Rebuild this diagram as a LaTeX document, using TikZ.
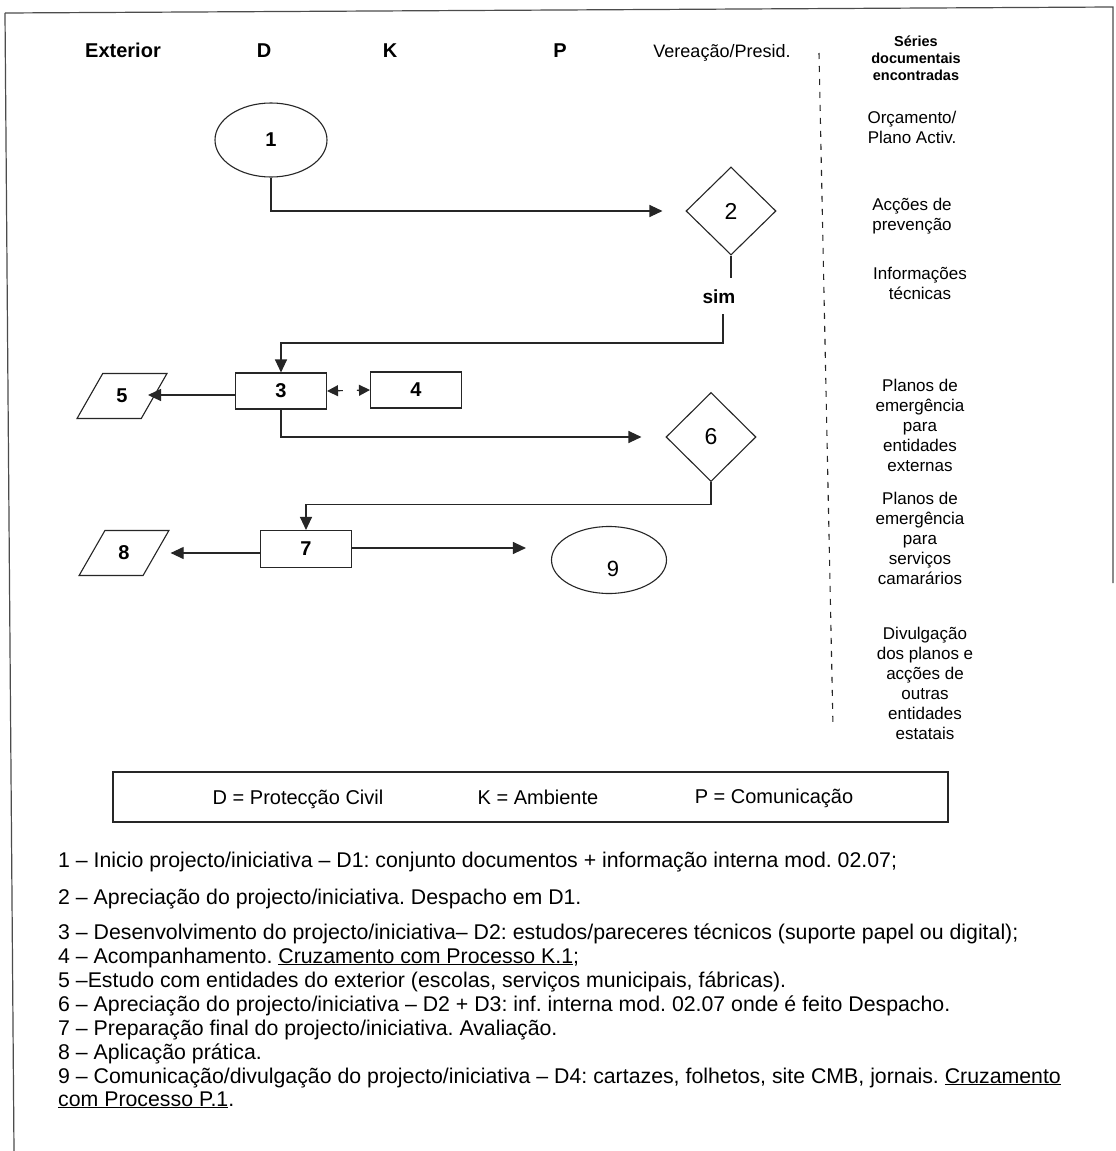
\documentclass[tikz,border=0pt]{standalone}
\usepackage{fontspec}
\setmainfont{Liberation Sans}
\usetikzlibrary{arrows.meta,shapes.geometric}
\frenchspacing
\begin{document}
\begin{tikzpicture}[x=1pt,y=-1pt,
  line/.style={line width=1.1pt, draw=black!85},
  arr/.style={line, -{Triangle[length=13pt,width=12pt]}},
  darr/.style={line, {Triangle[length=11pt,width=11pt]}-{Triangle[length=11pt,width=11pt]}, dash pattern=on 5pt off 14pt},
  frame/.style={line width=1.2pt, draw=black!70},
  procbox/.style={draw=black!85, line width=1.1pt, rectangle, minimum width=91pt, minimum height=36pt, inner sep=0pt, font=\bfseries\fontsize{20}{22}\selectfont},
  iobox/.style={draw=black!85, line width=1.1pt, trapezium, trapezium left angle=62, trapezium right angle=118, trapezium stretches=true, minimum width=90pt, minimum height=45pt, inner sep=0pt, font=\bfseries\fontsize{20}{22}\selectfont},
  term/.style={draw=black!85, ellipse, line width=1.1pt, inner sep=0pt},
  decision/.style={draw=black!85, diamond, line width=1.1pt, minimum width=90pt, minimum height=88pt, inner sep=0pt, font=\fontsize{23}{25}\selectfont},
  lane/.style={font=\bfseries\fontsize{20}{22}\selectfont, anchor=base, inner sep=0pt},
  docs/.style={align=center, inner sep=0pt, font=\fontsize{17}{20}\selectfont},
  legtext/.style={anchor=base, inner sep=0pt, font=\fontsize{20}{22}\selectfont},
  item/.style={anchor=base west, inner sep=0pt, font=\fontsize{21.3}{23}\selectfont},
]
\useasboundingbox (0,0) rectangle (1116,1151);
\fill[white] (0,0) rectangle (1116,1151);

% page frame
\draw[frame] (5,13) -- (1113,7) -- (1113,583);
\draw[frame] (5,13) -- (14,1151);

% lane headings
\node[lane] (hExt) at (123,57) {Exterior};
\node[lane] (hD) at (264,57) {D};
\node[lane] (hK) at (390,57) {K};
\node[lane] (hP) at (560,57) {P};
\node[anchor=base, inner sep=0pt, font=\fontsize{18}{20}\selectfont] (hV) at (722,57) {Vereação/Presid.};

% separator of the documents column
\coordinate (sepTop) at (819,53);
\coordinate (sepBot) at (833,727);
\draw[line width=1.1pt, draw=black!85, dash pattern=on 6pt off 7pt] (sepTop) -- (sepBot);

% documents column
\node[docs, font=\bfseries\fontsize{14.5}{17}\selectfont] (dHead) at (916,58) {Séries\\documentais\\encontradas};
\node[docs] (dOrc) at (912,127) {Orçamento/\\Plano Activ.};
\node[docs] (dAcc) at (912,216) {Acções de\\prevenção};
\node[docs] (dInf) at (920,283) {Informações\\técnicas};
\node[docs] (dExt) at (920,425) {Planos de\\emergência\\para\\entidades\\externas};
\node[docs] (dServ) at (920,538) {Planos de\\emergência\\para\\serviços\\camarários};
\node[docs] (dDiv) at (925,683) {Divulgação\\dos planos e\\acções de\\outras\\entidades\\estatais};

% flow nodes
\node[term, minimum width=112pt, minimum height=74pt, font=\bfseries\fontsize{20}{22}\selectfont] (n1) at (271,140) {1};
\node[decision] (n2) at (731,211) {2};
\node[anchor=base, inner sep=0pt, font=\bfseries\fontsize{19}{21}\selectfont] (sim) at (719,303) {sim};
\node[procbox] (n3) at (281,391) {3};
\node[procbox] (n4) at (416,390) {4};
\node[iobox] (n5) at (122,396) {5};
\node[decision, minimum height=89pt] (n6) at (711,437) {6};
\node[procbox, minimum height=37pt] (n7) at (306,549) {7};
\node[iobox] (n8) at (124,553) {8};
\node[term, minimum width=115pt, minimum height=67pt] (n9) at (609,560) {};
\node[inner sep=0pt, font=\fontsize{22}{24}\selectfont] (n9t) at (613,569) {9};

% connectors
\coordinate (simTop) at (731,278);
\coordinate (simBot) at (723,314);
\coordinate (simTurn) at (723,343);
\draw[arr, shorten >=23pt] (n1.south) |- (n2.west);
\draw[line] (n2.south) -- (simTop);
\draw[arr] (simBot) -- (simTurn) -| (n3.north);
\draw[arr, shorten >=26pt] ([yshift=-4pt]n3.west) -- ([yshift=-4pt]n3.west -| n5.center);
\draw[darr] (n3.east) -- (n4.west);
\draw[arr, shorten >=24pt] (n3.south) |- (n6.west);
\draw[arr] (n6.south) -- ++(0,22) -| (n7.north);
\draw[arr, shorten >=14pt] ([yshift=-4pt]n7.west) -- ([yshift=-4pt]n7.west -| n8.east);
\draw[arr, shorten >=25pt] ([yshift=1pt]n7.east) -- ([yshift=1pt]n7.east -| n9.west);

% legend
\node[draw=black!85, line width=1.1pt, minimum width=835pt, minimum height=50pt, inner sep=0pt] (legend) at (530.5,797) {};
\node[legtext] (legD) at (298,804) {D = Protecção Civil};
\node[legtext] (legK) at (538,804) {K = Ambiente};
\node[legtext] (legP) at (774,803) {P = Comunicação};

% step descriptions
\node[item] (l1) at (58,867) {1 – Inicio projecto/iniciativa – D1: conjunto documentos + informação interna mod. 02.07;};
\node[item] (l2) at (58,904) {2 – Apreciação do projecto/iniciativa. Despacho em D1.};
\node[item] (l3) at (58,939) {3 – Desenvolvimento do projecto/iniciativa– D2: estudos/pareceres técnicos (suporte papel ou digital);};
\node[item] (l4) at (58,963) {4 – Acompanhamento. \underline{Cruzamento com Processo K.1};};
\node[item] (l5) at (58,987) {5 –Estudo com entidades do exterior (escolas, serviços municipais, fábricas).};
\node[item] (l6) at (58,1011) {6 – Apreciação do projecto/iniciativa – D2 + D3: inf. interna mod. 02.07 onde é feito Despacho.};
\node[item] (l7) at (58,1035) {7 – Preparação final do projecto/iniciativa. Avaliação.};
\node[item] (l8) at (58,1059) {8 – Aplicação prática.};
\node[item] (l9) at (58,1083) {9 – Comunicação/divulgação do projecto/iniciativa – D4: cartazes, folhetos, site CMB, jornais. \underline{Cruzamento}};
\node[item] (l10) at (58,1106) {\underline{com Processo P.1}.};
\end{tikzpicture}
\end{document}
